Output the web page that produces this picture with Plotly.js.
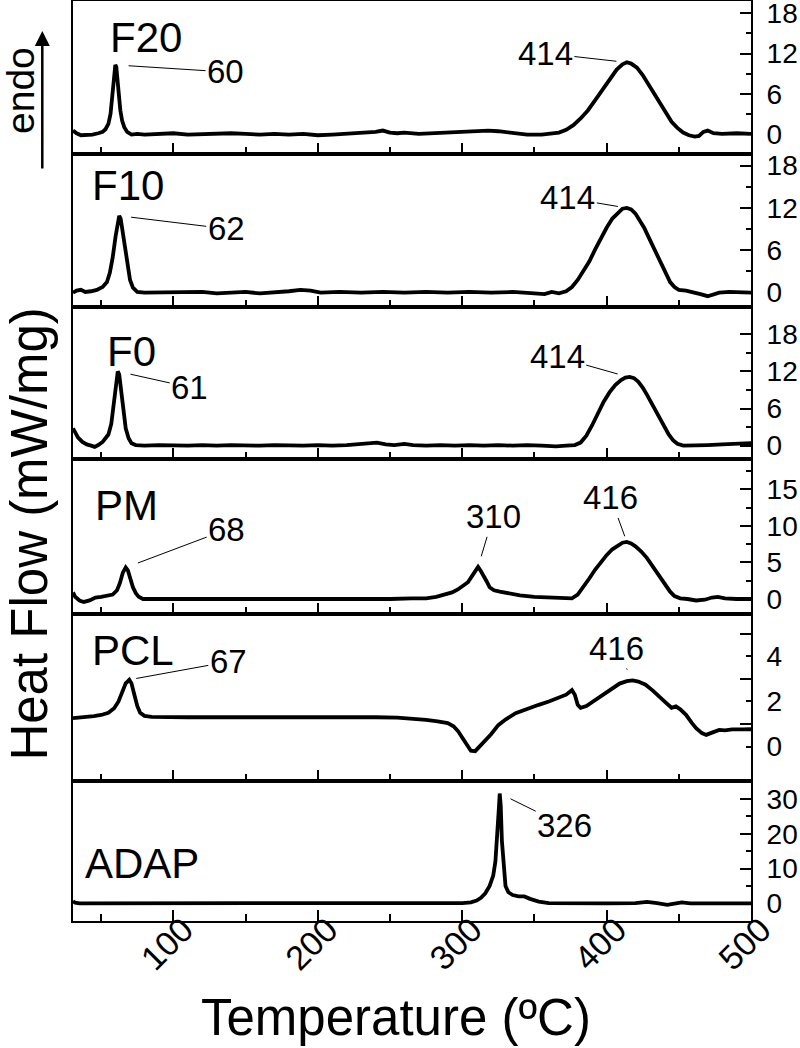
<!DOCTYPE html>
<html><head><meta charset="utf-8">
<script src="https://cdn.plot.ly/plotly-3.0.1.min.js"></script>
<style>html,body{margin:0;padding:0;background:#fff}#chart{width:800px;height:1048px}</style>
</head><body><div id="chart"></div>
<script>
// Sample names (top to bottom)
const samples = ["F20", "F10", "F0", "PM", "PCL", "ADAP"];

// DSC curves: [temperature (ºC), heat flow (mW/mg)]
const F20 = [[30.5,0.5],[33,0.1],[36,-0.2],[40,-0.2],[44,-0.1],[48,0.1],[51,0.3],[53,0.7],[55,1.5],[56.5,3.0],[58,6.0],[59,8.8],[59.8,10.3],[60.5,10.0],[61.3,8.5],[62.2,6.0],[63.3,3.5],[64.5,2.0],[66,1.0],[68,0.3],[71,-0.1],[75,0.0],[80,-0.1],[90,0.0],[100,0.1],[110,-0.1],[120,0.0],[130,0.0],[140,0.1],[150,0.0],[160,-0.1],[170,0.0],[180,-0.1],[190,0.0],[200,-0.2],[210,-0.1],[220,0.0],[230,0.1],[240,0.3],[245,0.5],[250,0.2],[255,0.1],[260,0.2],[270,0.0],[280,0.1],[290,0.2],[300,0.3],[310,0.4],[318,0.5],[325,0.4],[335,0.1],[345,-0.1],[355,-0.1],[362,0.0],[367,0.2],[372,0.6],[377,1.3],[382,2.3],[387,3.5],[392,5.0],[397,6.6],[402,8.2],[407,9.6],[411,10.4],[414,10.7],[417,10.5],[421,9.9],[425,8.8],[429,7.4],[433,5.9],[437,4.4],[441,3.0],[445,1.8],[449,0.9],[453,0.2],[457,-0.2],[461,-0.4],[464,-0.3],[467,0.3],[470,0.5],[474,0.1],[480,0.0],[490,0.1],[500,0.0]];
const F10 = [[30.5,0.0],[33,0.3],[36,0.4],[39,0.1],[43,0.2],[47,0.4],[51,0.8],[54,1.5],[56,2.8],[58,5.0],[60,8.0],[61.5,10.0],[62.5,10.9],[63.5,10.5],[65,8.5],[66.5,6.0],[68,3.8],[70,1.8],[72,0.7],[75,0.1],[80,0.0],[90,0.0],[100,0.1],[110,0.0],[120,0.1],[130,-0.1],[140,0.0],[150,0.1],[160,-0.1],[170,0.0],[180,0.2],[188,0.4],[195,0.3],[202,0.0],[215,0.1],[230,0.0],[245,0.1],[260,0.0],[275,0.1],[290,0.0],[305,0.1],[320,0.0],[335,0.1],[350,-0.1],[357,-0.2],[362,0.1],[367,-0.1],[372,0.2],[376,0.8],[380,1.8],[384,3.0],[388,4.4],[392,6.1],[396,7.7],[400,9.2],[404,10.5],[408,11.4],[411,11.9],[414,12.0],[417,11.8],[420,11.2],[423,10.3],[426,9.2],[429,7.9],[432,6.6],[435,5.2],[438,3.9],[441,2.6],[444,1.5],[447,0.8],[450,0.4],[455,0.3],[460,0.1],[465,-0.2],[470,-0.5],[474,-0.2],[478,0.0],[485,0.1],[492,0.0],[500,0.0]];
const F0 = [[30.5,2.8],[32,2.0],[34,1.3],[37,0.6],[40,0.2],[43,0.0],[45.5,-0.2],[48,0.1],[51,0.6],[53,1.2],[55,1.8],[57,3.5],[58.5,6.5],[60,9.8],[61.5,12.0],[62.5,11.5],[64,8.5],[65.5,5.0],[67,2.8],[69,1.2],[71,0.4],[74,0.1],[80,0.0],[90,0.1],[100,0.0],[110,0.0],[120,0.1],[130,0.0],[140,0.1],[150,0.0],[160,0.0],[170,0.1],[180,0.0],[190,0.0],[200,0.1],[210,0.0],[220,0.1],[228,0.2],[235,0.4],[241,0.5],[247,0.2],[253,0.1],[260,0.3],[266,0.1],[275,0.0],[285,0.1],[295,0.0],[305,0.1],[315,0.0],[325,0.1],[335,0.0],[345,0.1],[355,0.0],[365,-0.1],[372,0.0],[378,0.1],[382,0.5],[386,1.6],[390,3.3],[394,5.3],[398,7.1],[402,8.6],[406,9.8],[410,10.6],[413,11.0],[416,11.1],[419,10.9],[422,10.3],[425,9.4],[428,8.2],[431,6.9],[434,5.6],[437,4.2],[440,2.9],[443,1.8],[446,0.9],[449,0.3],[453,0.0],[460,0.0],[470,0.1],[480,0.2],[490,0.3],[500,0.4]];
const PM = [[30.5,0.9],[32,0.3],[35,-0.2],[38,-0.4],[42,-0.2],[46,0.2],[50,0.3],[54,0.4],[58,0.6],[61,1.2],[63,2.2],[65,3.6],[67,4.3],[68.5,3.9],[70,2.8],[72,1.6],[74,0.8],[76,0.3],[79,0.0],[90,0.0],[110,0.0],[130,0.0],[150,0.0],[170,-0.1],[190,0.0],[210,0.0],[230,0.0],[250,0.0],[265,0.1],[275,0.1],[282,0.3],[288,0.6],[293,0.9],[297,1.3],[301,1.8],[304,2.3],[307,3.2],[309,3.9],[311,4.4],[313,3.8],[315,3.2],[317,2.4],[319,1.6],[322,1.2],[326,1.0],[332,0.8],[340,0.5],[350,0.3],[360,0.2],[370,0.1],[376,0.1],[380,0.6],[384,1.6],[388,2.8],[392,4.0],[396,5.1],[400,6.0],[404,6.8],[408,7.4],[411,7.7],[414,7.8],[417,7.6],[420,7.2],[424,6.5],[428,5.6],[432,4.5],[436,3.3],[440,2.1],[444,1.0],[447,0.4],[451,0.1],[456,0.0],[462,-0.2],[468,-0.1],[473,0.2],[477,0.3],[482,0.1],[490,0.0],[500,0.0]];
const PCL = [[30.5,1.26],[35,1.28],[40,1.32],[45,1.35],[50,1.4],[55,1.5],[59,1.7],[62,2.0],[64.5,2.4],[67,2.8],[69.5,2.96],[71,2.8],[73,2.3],[75,1.8],[77,1.5],[80,1.36],[85,1.32],[95,1.3],[110,1.3],[130,1.3],[150,1.3],[170,1.3],[190,1.3],[200,1.32],[210,1.33],[220,1.3],[240,1.3],[255,1.28],[265,1.24],[275,1.18],[283,1.12],[290,1.04],[294,0.9],[297,0.7],[300,0.4],[303,0.1],[306,-0.18],[309,-0.2],[312,0.0],[316,0.28],[320,0.55],[325,0.95],[330,1.2],[337,1.48],[345,1.68],[353,1.85],[360,2.0],[367,2.15],[372,2.3],[376,2.5],[378,2.3],[380,1.85],[382,1.72],[386,1.8],[392,2.05],[400,2.37],[405,2.6],[409,2.79],[414,2.9],[418,2.93],[422,2.88],[427,2.74],[432,2.48],[436,2.22],[441,1.95],[445,1.72],[448,1.78],[451,1.65],[455,1.41],[459,1.05],[462,0.82],[466,0.6],[469,0.52],[473,0.62],[478,0.74],[482,0.72],[487,0.76],[494,0.76],[500,0.77]];
const ADAP = [[30.5,0.6],[32,0.2],[35,0.0],[50,0.0],[80,0.0],[120,0.0],[160,0.0],[200,0.0],[240,0.0],[280,0.0],[300,0.1],[306,0.3],[310,0.8],[313,1.6],[316,2.9],[319,5.0],[321.5,8.0],[323,12.0],[324.5,20.0],[325.5,28.0],[326,31.6],[326.7,28.0],[327.5,18.0],[328.5,11.0],[330,5.0],[332,3.2],[335,2.4],[339,2.0],[343,2.0],[347,1.3],[353,0.5],[360,0.1],[380,0.0],[400,0.0],[420,0.1],[428,0.4],[435,0.1],[442,-0.4],[448,0.0],[452,0.3],[458,0.0],[480,0.0],[500,0.0]];

// Peak labels: [panel index, peak temperature, peak value, label]
const peakLabels = [
  [0, 60, 10.3, "60"], [0, 413, 10.7, "414"],
  [1, 62.5, 10.9, "62"], [1, 414, 12.0, "414"],
  [2, 61.5, 12.0, "61"], [2, 415, 11.1, "414"],
  [3, 67, 4.3, "68"], [3, 311, 4.4, "310"], [3, 414, 7.8, "416"],
  [4, 69.5, 2.96, "67"], [4, 418, 2.93, "416"],
  [5, 326, 31.6, "326"]
];

// Y tick labels / minor ticks per panel
const yMajor = [[0,6,12,18],[0,6,12,18],[0,6,12,18],[0,5,10,15],[0,2,4],[0,10,20,30]];
const yMinor = [[3,9,15],[3,9,15],[3,9,15],[2.5,7.5,12.5,17.5],[1,3,5],[5,15,25]];
const yLeftTicks = [[0,3,6,9,12,15,18],[0,3,6,9,12,15,18],[0,3,6,9,12,15,18,21],[0,2.5,5,7.5,10,12.5,15,17.5],[0,1,2,3,4,5],[0,5,10,15,20,25,30]];
const xTicks = [100, 200, 300, 400, 500];
const xMinorTicks = [50, 150, 250, 350, 450];

const series = [F20, F10, F0, PM, PCL, ADAP];
const FONT = "Liberation Sans, Arial, sans-serif";

// layout geometry
const yRanges = [[-3,19.85],[-2.03,19.65],[-2.15,22.4],[-2.05,19.15],[-1.52,5.87],[-5.07,35.2]];
const domains = [[0.8337,1.0],[0.6674,0.8337],[0.5022,0.6674],[0.3337,0.5022],[0.1522,0.3337],[0,0.1522]];
const xRange = [30.5, 500];

const traces = series.map((s, i) => ({
  type: "scatter", mode: "lines",
  x: s.map(p => p[0]), y: s.map(p => p[1]),
  xaxis: i === 0 ? "x" : "x" + (i + 1),
  yaxis: i === 0 ? "y" : "y" + (i + 1),
  line: {color: "#000", width: 3.8},
  showlegend: false, hoverinfo: "skip"
}));
// empty trace that registers the tick-label axis x7 on the bottom panel
traces.push({type: "scatter", mode: "lines", x: [], y: [], xaxis: "x7", yaxis: "y6", showlegend: false, hoverinfo: "skip"});

const layout = {
  width: 800, height: 1048,
  margin: {l: 73, r: 49, t: 1, b: 127},
  paper_bgcolor: "#fff", plot_bgcolor: "#fff",
  font: {family: FONT, color: "#000"},
  showlegend: false,
  annotations: []
};

for (let i = 0; i < 6; i++) {
  const n = i + 1;
  const xa = n === 1 ? "xaxis" : "xaxis" + n;
  const ya = n === 1 ? "yaxis" : "yaxis" + n;
  const yid = n === 1 ? "y" : "y" + n;
  const xid = n === 1 ? "x" : "x" + n;
  layout[xa] = {
    domain: [0, 1], anchor: yid, range: xRange,
    matches: n === 1 ? undefined : "x",
    tickvals: xTicks,
    ticks: "inside", ticklen: 11, tickwidth: 2, tickcolor: "#000",
    minor: {tickvals: xMinorTicks, ticks: "inside", ticklen: 7, tickwidth: 2, tickcolor: "#000"},
    showline: true, mirror: true, linewidth: 2, linecolor: "#000",
    showgrid: false, zeroline: false, showticklabels: false
  };
  layout[ya] = {
    domain: domains[i], anchor: xid, side: "right", range: yRanges[i],
    tickvals: yMajor[i], ticktext: yMajor[i].map(String),
    ticks: "inside", ticklen: i === 4 ? 5 : 11, tickwidth: 2, tickcolor: "#000",
    minor: {tickvals: yMinor[i], ticks: "inside", ticklen: i === 4 ? 11 : 5, tickwidth: 2, tickcolor: "#000"},
    showline: true, mirror: true, linewidth: 2, linecolor: "#000",
    showgrid: false, zeroline: false,
    tickfont: {size: 28, family: FONT, color: "#000"},
    ticklabelstandoff: 8, ticklabeloverflow: "allow"
  };
  // left-side tick marks (no labels)
  layout["yaxis" + (n + 6)] = {
    overlaying: yid, anchor: xid, side: "left", range: yRanges[i],
    tickvals: yLeftTicks[i], ticks: "inside", ticklen: 12, tickwidth: 2, tickcolor: "#000",
    showticklabels: false, showline: false, showgrid: false, zeroline: false
  };
  // panel name
  const labelPos = [[0.1084,0.960],[0.0804,0.799],[0.0866,0.619],[0.0792,0.452],[0.0878,0.294],[0.1013,0.062]][i];
  layout.annotations.push({
    xref: "paper", yref: "paper", x: labelPos[0], y: labelPos[1],
    xanchor: "center", yanchor: "middle",
    text: samples[i], showarrow: false, font: {size: 42, family: FONT, color: "#000"}
  });
}

// temperature tick labels (shared x scale, drawn by a label-only axis just under the bottom panel)
layout.xaxis7 = {
  overlaying: "x6", anchor: "free", position: 0.025, side: "bottom",
  range: xRange, tickvals: xTicks, ticktext: xTicks.map(String),
  ticks: "", showline: false, showgrid: false, zeroline: false,
  showticklabels: true, tickangle: -45,
  tickfont: {size: 34, family: FONT, color: "#000"},
  ticklabelstandoff: 4, ticklabelshift: 10, ticklabeloverflow: "allow"
};

// peak annotations: [ax, ay, standoff]
const peakOffsets = [[110,7,13],[-80,-9,9],[107,13,12],[-59,-10,9],[72,16,13],[-71,-20,11],[101,-38,13],[15,-50,11],[-16,-44,6],[99,-18,7],[-16,-32,12],[65,32,12]];
peakLabels.forEach((p, k) => {
  const n = p[0] + 1;
  const o = peakOffsets[k];
  layout.annotations.push({
    xref: n === 1 ? "x" : "x" + n, yref: n === 1 ? "y" : "y" + n,
    x: p[1], y: p[2], text: p[3],
    showarrow: true, arrowhead: 0, arrowwidth: 1, arrowcolor: "#000",
    ax: o[0], ay: o[1], standoff: o[2],
    font: {size: 33, family: FONT, color: "#000"}
  });
});

// axis titles and endo arrow
layout.annotations.push({
  xref: "paper", yref: "paper", x: -0.0634, y: 0.42, xanchor: "center", yanchor: "middle",
  text: "Heat Flow (mW/mg)",
  textangle: -90, showarrow: false, font: {size: 51, family: FONT, color: "#000"}
});
layout.annotations.push({
  xref: "paper", yref: "paper", x: 0.4757, y: -0.1054, xanchor: "center", yanchor: "middle",
  text: "Temperature (ºC)",
  showarrow: false, font: {size: 51, family: FONT, color: "#000"}
});
layout.annotations.push({
  xref: "paper", yref: "paper", x: -0.0767, y: 0.9033, xanchor: "center", yanchor: "middle",
  text: "endo",
  textangle: -90, showarrow: false, font: {size: 39, family: FONT, color: "#000"}
});
layout.annotations.push({
  xref: "paper", yref: "paper", x: -0.0453, y: 0.9674, text: "",
  showarrow: true, arrowhead: 2, arrowsize: 1.2, arrowwidth: 2.5, arrowcolor: "#000",
  ax: 0, ay: 139
});

Plotly.newPlot("chart", traces, layout, {staticPlot: true, displayModeBar: false});
</script>
</body></html>
